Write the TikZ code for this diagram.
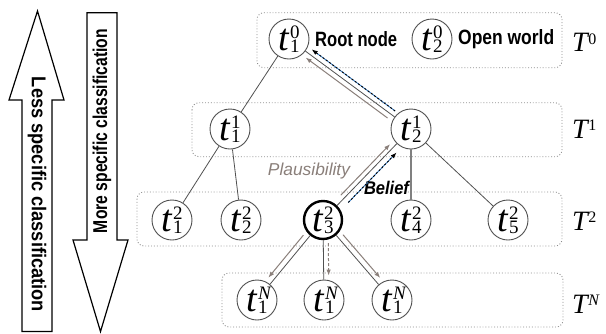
\documentclass[tikz,border=0pt]{standalone}
\usepackage{fontspec}
\newfontfamily\sansf{Liberation Sans}
\newfontfamily\serf{Liberation Serif}
\usetikzlibrary{arrows.meta,calc}
\definecolor{plausc}{HTML}{8A7F7A}
\definecolor{edgec}{HTML}{505050}
\definecolor{boxc}{HTML}{8C8C8C}
\definecolor{beliefblue}{HTML}{3C7FC4}
\newcommand\tlab[2]{\mbox{\serf\fontsize{38}{38}\selectfont\itshape t\kern1pt\upshape\fontsize{19}{19}\selectfont\rlap{\raisebox{12.4pt}{#2}}\raisebox{-2pt}{#1}}}
\newcommand\Tlab[1]{\mbox{\serf\fontsize{28}{28}\selectfont\itshape T\kern0.5pt\upshape\fontsize{16}{16}\selectfont\raisebox{7.7pt}{#1}}}
\begin{document}
\begin{tikzpicture}[x=1pt,y=-1pt,
  tn/.style={circle, draw=edgec, line width=0.9pt, minimum size=40pt, inner sep=0pt, fill=white},
  tsel/.style={tn, draw=black, line width=2.4pt, minimum size=38pt},
  layerbox/.style={draw=boxc, dotted, line width=0.9pt, rounded corners=7pt},
  edge/.style={draw=edgec, line width=0.8pt},
  vedge/.style={draw=gray, line width=1.5pt},
  plaus/.style={draw=plausc, line width=1pt, -{Latex[length=6pt,width=4.5pt]}},
  belb/.style={draw=beliefblue, line width=0.9pt},
  belk/.style={draw=black, line width=0.9pt, dash pattern=on 2pt off 2pt, -{Latex[length=6pt,width=4.5pt]}},
  bigarrow/.style={draw=black, line width=1.2pt, fill=white, line join=miter},
  lbl/.style={inner sep=0pt}
]
\useasboundingbox (0,0) rectangle (606,333);

% big side arrows
\draw[bigarrow] (37.5,11) -- (64,100) -- (52,100) -- (52,331.5) -- (22,331.5) -- (22,100) -- (9,100) -- cycle;
\draw[bigarrow] (100.5,331.5) -- (128,240) -- (117,240) -- (117,12.7) -- (87,12.7) -- (87,240) -- (73,240) -- cycle;
\node[lbl, rotate=-90] (less) at (37,194.5) {\resizebox{235pt}{14.5pt}{\sansf\bfseries Less specific classification}};
\node[lbl, rotate=90] (more) at (102,131) {\resizebox{204pt}{14.5pt}{\sansf\bfseries More specific classification}};

% layer boxes
\draw[layerbox] (257,12.7) rectangle (562,67.7);
\draw[layerbox] (192,102.7) rectangle (562,156.7);
\draw[layerbox] (137,192) rectangle (562,246);
\draw[layerbox] (222,273) rectangle (563,327);

% nodes
\node[tn] (t10) at (289,39) {\tlab{1}{0}};
\node[tn] (t20) at (432,39) {\tlab{2}{0}};
\node[tn] (t11) at (230,129) {\tlab{1}{1}};
\node[tn] (t21) at (411,129) {\tlab{2}{1}};
\node[tn] (t12) at (172,220) {\tlab{1}{2}};
\node[tn] (t22) at (241,220) {\tlab{2}{2}};
\node[tsel] (t32) at (323,220) {\tlab{3}{2}};
\node[tn] (t42) at (411,220) {\tlab{4}{2}};
\node[tn] (t52) at (508,220) {\tlab{5}{2}};
\node[tn] (n1) at (257,300) {\tlab{1}{\itshape N}};
\node[tn] (n2) at (324,300) {\tlab{1}{\itshape N}};
\node[tn] (n3) at (392,300) {\tlab{1}{\itshape N}};

% texts
\node[lbl, anchor=west] (root) at (315,39) {\resizebox{82pt}{15pt}{\sansf\bfseries Root node}};
\node[lbl, anchor=west] (open) at (458,39) {\resizebox{96pt}{15pt}{\sansf\bfseries Open world}};
\node[lbl, text=plausc] (plaustxt) at (309,171) {\resizebox{82pt}{12.5pt}{\sansf\itshape Plausibility}};
\node[lbl] (belieftxt) at (386.5,188.3) {\resizebox{45pt}{13.3pt}{\sansf\bfseries\itshape Belief}};

\node[lbl, anchor=base west] (T0) at (572,51.7) {\Tlab{0}};
\node[lbl, anchor=base west] (T1) at (572,138.3) {\Tlab{1}};
\node[lbl, anchor=base west] (T2) at (572,230) {\Tlab{2}};
\node[lbl, anchor=base west] (TN) at (572,313) {\Tlab{\itshape N}};

% tree edges
\draw[edge] (t10) -- (t11);
\draw[edge] (t10) -- (t21);
\draw[edge] (t11) -- (t12);
\draw[edge] (t11) -- (t22);
\draw[edge] (t21) -- (t32);
\draw[vedge] (t21) -- (t42);
\draw[edge] (t21) -- (t52);
\draw[edge] (t32) -- (n1);
\draw[edge] (t32) -- (n2);
\draw[edge] (t32) -- (n3);

% plausibility / belief t21 -> t10
\draw[plaus, transform canvas={shift={(-3,4.1)}}, shorten <=5pt, shorten >=4pt] (t21) -- (t10);
\draw[belb, transform canvas={shift={(3,-4.1)}}, shorten <=3pt, shorten >=9pt] (t21) -- (t10);
\draw[belk, transform canvas={shift={(3,-4.1)}}, shorten <=3pt, shorten >=4pt] (t21) -- (t10);

% plausibility / belief t32 -> t21
\draw[plaus, transform canvas={shift={(-3.2,-3.1)}}, shorten <=10pt, shorten >=5pt] (t32) -- (t21);
\draw[belb, transform canvas={shift={(4.3,4.2)}}, shorten <=10pt, shorten >=12pt] (t32) -- (t21);
\draw[belk, transform canvas={shift={(4.3,4.2)}}, shorten <=10pt, shorten >=6.5pt] (t32) -- (t21);

% plausibility to children
\draw[plaus, transform canvas={shift={(-4.2,-3.5)}}, shorten <=4pt, shorten >=4pt] (t32) -- (n1);
\draw[plaus, dash pattern=on 3pt off 2pt, transform canvas={shift={(5,0)}}, shorten <=3pt, shorten >=4pt] (t32) -- (n2);
\draw[plaus, transform canvas={shift={(4.2,-3.6)}}, shorten <=4pt, shorten >=4pt] (t32) -- (n3);
\end{tikzpicture}
\end{document}
